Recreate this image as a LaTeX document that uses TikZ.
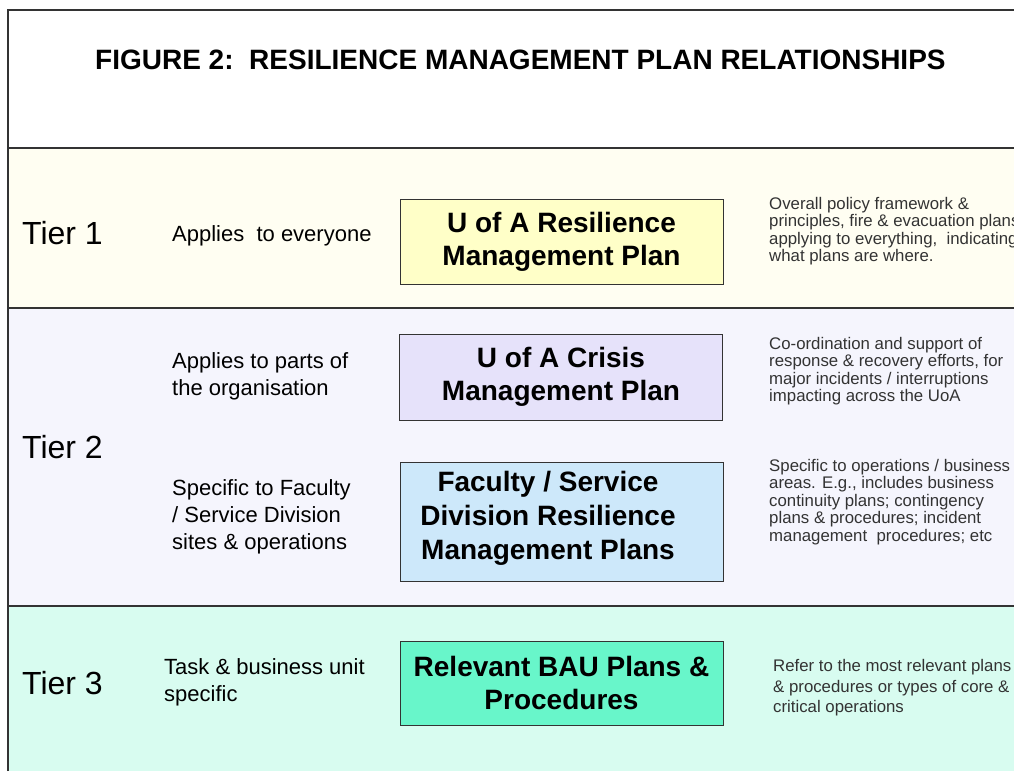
\documentclass[tikz,border=0pt]{standalone}
\usepackage{fontspec}
\setmainfont{Liberation Sans}
\definecolor{bandone}{HTML}{FFFEF2}
\definecolor{bandtwo}{HTML}{F5F5FD}
\definecolor{bandthree}{HTML}{D8FCF0}
\definecolor{boxone}{HTML}{FFFFC8}
\definecolor{boxtwo}{HTML}{E6E2FA}
\definecolor{boxthree}{HTML}{CDE8FA}
\definecolor{boxfour}{HTML}{68F6CA}
\definecolor{rule}{HTML}{333333}
\begin{document}
\begin{tikzpicture}[x=1pt,y=-1pt,
		plan/.style={draw=rule,line width=1pt,minimum width=323pt,align=center,
			font=\fontsize{28}{33}\selectfont\bfseries,inner sep=0pt},
		tier/.style={anchor=west,inner sep=0pt,font=\fontsize{32}{34}\selectfont},
		scope/.style={anchor=west,align=left,inner sep=0pt,font=\fontsize{22}{27}\selectfont},
		note/.style={anchor=west,align=left,inner sep=0pt,text=black!80,font=\fontsize{16.8}{17.5}\selectfont}]
			\clip(0,0)rectangle(1014,771);
			\fill[white](0,0)rectangle(1014,771);
			% bands
			\fill[bandone](8,148)rectangle(1014,308);
			\fill[bandtwo](8,308)rectangle(1014,606);
			\fill[bandthree](8,606)rectangle(1014,771);
			\draw[rule,line width=1.2pt](8,148)--(1014,148);
			\draw[rule,line width=1.2pt](8,308)--(1014,308);
			\draw[rule,line width=1.2pt](8,606)--(1014,606);
			% frame
			\draw[rule,line width=1.5pt](8,771)--(8,10)--(1014,10);
			\node[anchor=west,inner sep=0pt,font=\fontsize{28}{30}\selectfont\bfseries](title)at(95,60){FIGURE 2:\ \ RESILIENCE MANAGEMENT PLAN RELATIONSHIPS};
			% tier names
			\node[tier](t1)at(22,233){Tier 1};
			\node[tier](t2)at(22,447){Tier 2};
			\node[tier](t3)at(22,683){Tier 3};
			% who the plans apply to
			\node[scope](s1)at(172,236){Applies\ \ to everyone};
			\node[scope](s2)at(172,376){Applies to parts of\\the organisation};
			\node[scope](s3)at(172,517){Specific to Faculty\\/ Service Division\\sites \& operations};
			\node[scope](s4)at(164,682){Task \& business unit\\specific};
			% plans
			\node[plan,fill=boxone,minimum height=85pt](p1)at(561.5,241.5){U of A Resilience\\Management Plan};
			\node[plan,fill=boxtwo,minimum height=86pt](p2)at(561,377){U of A Crisis\\Management Plan};
			\node[plan,fill=boxthree,minimum height=119pt](p3)at(561.5,521.5){};
			\node(p3text)at(548,519){\fontsize{28}{34}\selectfont\bfseries\begin{tabular}{@{}c@{}}Faculty / Service\\Division Resilience\\Management Plans\end{tabular}};
			\node[plan,fill=boxfour,minimum height=84pt](p4)at(561.5,683){Relevant BAU Plans \&\\Procedures};
			% what they cover
			\node[note](n1)at(769,231){Overall policy framework \&\\principles, fire \& evacuation plans\\applying to everything,\ \ indicating\\what plans are where.};
			\node[note](n2)at(769,371){Co-ordination and support of\\response \& recovery efforts, for\\major incidents / interruptions\\impacting across the UoA};
			\node[note](n3)at(769,502){Specific to operations / business\\areas. E.g., includes business\\continuity plans; contingency\\plans \& procedures; incident\\management\ \ procedures; etc};
			\node[note,font=\fontsize{16.8}{20.5}\selectfont](n4)at(773,688){Refer to the most relevant plans\\\& procedures or types of core \&\\critical operations};
		\end{tikzpicture}
\end{document}
